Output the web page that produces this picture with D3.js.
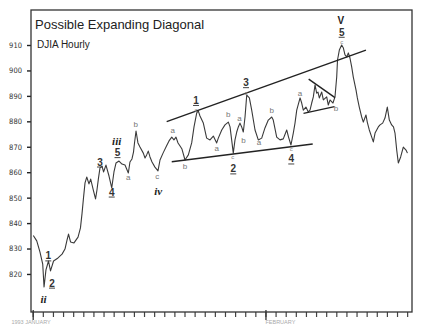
<!DOCTYPE html>
<html>
<head>
<meta charset="utf-8">
<script src="https://cdn.jsdelivr.net/npm/d3@7"></script>
<style>
body { margin: 0; background: #fff; }
svg { display: block; font-family: "Liberation Sans", Arial, sans-serif; }
</style>
</head>
<body>
<div class="container"></div>
<script>
// DJIA hourly, hour index from start of chart
const hours = [0.06,0.40,0.72,0.99,1.12,1.31,1.56,1.76,2.06,2.50,2.90,3.19,3.39,3.54,3.74,4.08,4.48,4.72,4.87,5.02,
  5.17,5.34,5.56,5.73,5.99,6.21,6.35,6.50,6.65,6.85,7.00,7.24,7.54,7.81,8.03,8.23,8.53,8.82,9.12,9.45,
  9.61,9.81,9.96,10.06,10.21,10.40,10.60,10.93,11.10,11.26,11.42,11.59,11.79,12.08,12.38,12.58,12.88,13.22,13.47,13.74,
  13.96,14.16,14.36,14.56,14.75,15.05,15.38,15.71,15.94,16.21,16.36,16.53,16.86,17.19,17.52,17.85,18.18,18.34,18.68,19.00,
  19.33,19.50,19.66,19.82,19.99,20.16,20.32,20.48,20.65,20.81,20.98,21.15,21.41,21.64,21.97,22.29,22.63,22.95,23.28,23.62,
  23.77,24.11,24.44,24.76,25.10,25.28,25.52,25.75,25.92,26.09,26.42,26.58,26.74,27.00,27.23,27.40,27.57,27.73,27.90,28.06,
  28.19,28.32,28.56,28.72,29.05,29.21,29.38,29.67,29.87,30.04,30.12,30.30,30.53,30.70,30.86,31.03,31.19,31.35,31.52,31.68,
  31.95,32.08,32.27,32.51,32.67,32.93,33.06,33.26,33.50,33.66,33.83,34.15,34.32,34.58,34.81,35.04,35.24,35.47,35.65,35.80,
  35.97,36.13,36.36,36.62,36.89,37.03];
const djia = [835.1,833.0,828.6,823.9,814.9,821.6,825.1,821.2,825.1,826.3,827.8,829.8,833.3,835.7,832.6,832.2,834.5,838.1,843.6,849.9,
  855.8,858.1,855.4,857.3,853.0,849.5,853.0,857.7,861.7,862.4,860.1,862.8,858.5,853.8,860.1,863.6,864.4,863.2,862.8,859.7,
  864.0,865.2,867.9,871.5,876.2,871.5,869.9,867.5,865.6,866.8,868.3,866.0,864.0,862.0,860.5,864.8,867.5,870.3,872.3,873.8,
  872.7,873.8,871.5,870.3,869.1,864.8,866.8,871.5,877.8,883.3,884.1,882.1,879.3,873.4,872.7,874.2,871.5,873.4,876.6,878.6,
  879.7,877.8,872.7,867.5,872.7,875.8,877.8,879.3,877.8,875.8,881.7,890.3,889.2,884.4,876.6,872.7,873.4,877.4,880.5,881.7,
  880.5,873.8,872.7,873.1,876.6,873.8,870.7,875.4,879.3,884.4,889.2,887.2,884.4,885.6,883.7,884.4,887.2,889.6,894.3,891.1,
  891.5,889.2,891.5,888.4,889.6,886.4,888.4,887.2,889.6,897.4,904.1,908.0,910.0,908.8,906.1,905.3,906.9,904.9,901.4,897.4,
  892.3,889.2,885.6,881.7,879.7,882.5,879.7,876.6,873.8,871.9,875.4,877.8,878.6,879.3,881.3,885.6,880.5,878.6,877.8,875.4,
  868.7,863.6,866.0,869.9,868.7,867.5];

const yTicks = [820,830,840,850,860,870,880,890,900,910];
const xTicks = d3.range(0, 38);
const monthTicks = [0, 23];
const monthLabels = ["1993  JANUARY", "FEBRUARY"];
const monthLabelHours = [-2.1, 23.0];

// trend lines, [hour, value]
const upperLine = [[13.24,879.9],[32.93,908.0]];
const lowerLine = [[13.74,864.1],[27.67,871.1]];
const triTop = [[27.27,896.6],[29.87,889.3]];
const triBottom = [[26.76,883.1],[29.82,885.8]];

// wave labels: text, hour, value, kind
const waveLabels = [
  ["ii",1.07,810.2,"roman"],["1",1.54,827.1,"num"],["2",1.91,816.4,"num"],
  ["3",6.65,864.0,"num"],["4",7.81,852.2,"num"],["iii",8.30,872.4,"roman"],["5",8.38,867.7,"num"],
  ["a",9.45,858.1,"sub"],["b",10.18,878.9,"sub"],["c",12.31,858.3,"sub"],["iv",12.41,852.8,"roman"],
  ["a",13.83,876.2,"sub"],["b",15.05,862.4,"sub"],["1",16.14,888.2,"num"],["c",16.14,884.3,"tiny"],
  ["a",18.18,869.5,"sub"],["b",19.33,882.5,"sub"],["c",19.76,866.0,"tiny"],["2",19.82,861.3,"num"],
  ["a",20.42,881.2,"sub"],["b",20.83,872.3,"sub"],["3",21.08,895.2,"num"],["c",21.08,891.3,"tiny"],
  ["a",22.36,871.5,"sub"],["b",23.62,884.1,"sub"],["c",25.55,869.2,"tiny"],["4",25.55,865.2,"num"],
  ["a",26.42,891.1,"sub"],["b",29.97,885.2,"sub"],
  ["V",30.46,919.6,"big"],["5",30.53,915.0,"num"],["c",30.53,911.1,"tiny"]
];

const w = 422;
const h = 325;

const xScale = d3.scaleLinear().domain([-0.168, 37.48]).range([31, 412]);
const yScale = d3.scaleLinear().domain([805.05, 923.76]).range([312, 10]);

const svg = d3.select(".container")
  .append("svg")
  .attr("width", w)
  .attr("height", h);

// y axis
const yAxis = d3.axisLeft(yScale).tickValues(yTicks).tickSize(4).tickPadding(5);
const gy = svg.append("g")
  .attr("transform", "translate(31,0)")
  .call(yAxis);
gy.select(".domain").remove();
gy.selectAll("line").attr("stroke", "#222").attr("stroke-width", 1.4);
gy.selectAll("text")
  .attr("font-size", "7.5px")
  .attr("fill", "#333")
  .attr("font-family", "'DejaVu Sans Condensed', 'Liberation Sans', sans-serif");

// x axis, one tick per hour
const xAxis = d3.axisBottom(xScale).tickValues(xTicks).tickSize(5).tickFormat("");
const gx = svg.append("g")
  .attr("transform", "translate(0,312)")
  .call(xAxis);
gx.select(".domain").remove();
gx.selectAll("line").attr("stroke", "#444").attr("stroke-width", 1.2);

svg.append("g")
  .attr("transform", "translate(0,310)")
  .call(d3.axisBottom(xScale).tickValues(monthTicks).tickSize(10).tickFormat(""))
  .call(g => g.select(".domain").remove())
  .selectAll("line").attr("stroke", "#333").attr("stroke-width", 1.3);

svg.selectAll(".month")
  .data(monthLabels)
  .enter()
  .append("text")
  .attr("class", "month")
  .attr("x", (d, i) => xScale(monthLabelHours[i]))
  .attr("y", 324)
  .attr("font-size", "5.5px")
  .attr("fill", "#aaa")
  .text(d => d);

// frame
svg.append("rect")
  .attr("x", 31).attr("y", 10)
  .attr("width", 381).attr("height", 302)
  .attr("fill", "none")
  .attr("stroke", "#333")
  .attr("stroke-width", 1.3);

// title
svg.append("text")
  .attr("x", 35).attr("y", 29)
  .attr("font-size", "13px")
  .attr("fill", "#222")
  .text("Possible Expanding Diagonal");
svg.append("text")
  .attr("x", 37).attr("y", 48)
  .attr("font-size", "10px")
  .attr("fill", "#222")
  .text("DJIA Hourly");

// price line
const line = d3.line()
  .x(d => xScale(d[0]))
  .y(d => yScale(d[1]));
svg.append("path")
  .datum(hours.map((d, i) => [d, djia[i]]))
  .attr("d", line)
  .attr("fill", "none")
  .attr("stroke", "#3a3a3a")
  .attr("stroke-width", 1.1)
  .attr("stroke-linejoin", "round");

// trend lines
[upperLine, lowerLine, triTop, triBottom].forEach(seg => {
  svg.append("path")
    .datum(seg)
    .attr("d", line)
    .attr("stroke", "#222")
    .attr("stroke-width", 1.4);
});

// wave labels
const lab = svg.append("g");
waveLabels.forEach(([t, hr, v, kind]) => {
  const px = xScale(hr), py = yScale(v);
  const txt = lab.append("text")
    .attr("x", px).attr("y", py)
    .attr("text-anchor", "middle")
    .attr("dominant-baseline", "central")
    .text(t);
  if (kind == "num") {
    txt.attr("font-size", "10px").attr("font-weight", "bold").attr("fill", "#333");
    lab.append("line")
      .attr("x1", px - 3).attr("x2", px + 3)
      .attr("y1", py + 5).attr("y2", py + 5)
      .attr("stroke", "#444").attr("stroke-width", 1);
  } else if (kind == "roman") {
    txt.attr("font-size", "11px").attr("font-weight", "bold").attr("font-style", "italic")
      .attr("font-family", "'Liberation Serif', serif").attr("fill", "#222");
  } else if (kind == "big") {
    txt.attr("font-size", "10px").attr("font-weight", "bold").attr("fill", "#222");
  } else if (kind == "tiny") {
    txt.attr("font-size", "6px").attr("fill", "#888");
  } else {
    txt.attr("font-size", "8px").attr("fill", "#777");
  }
});
</script>
</body>
</html>
